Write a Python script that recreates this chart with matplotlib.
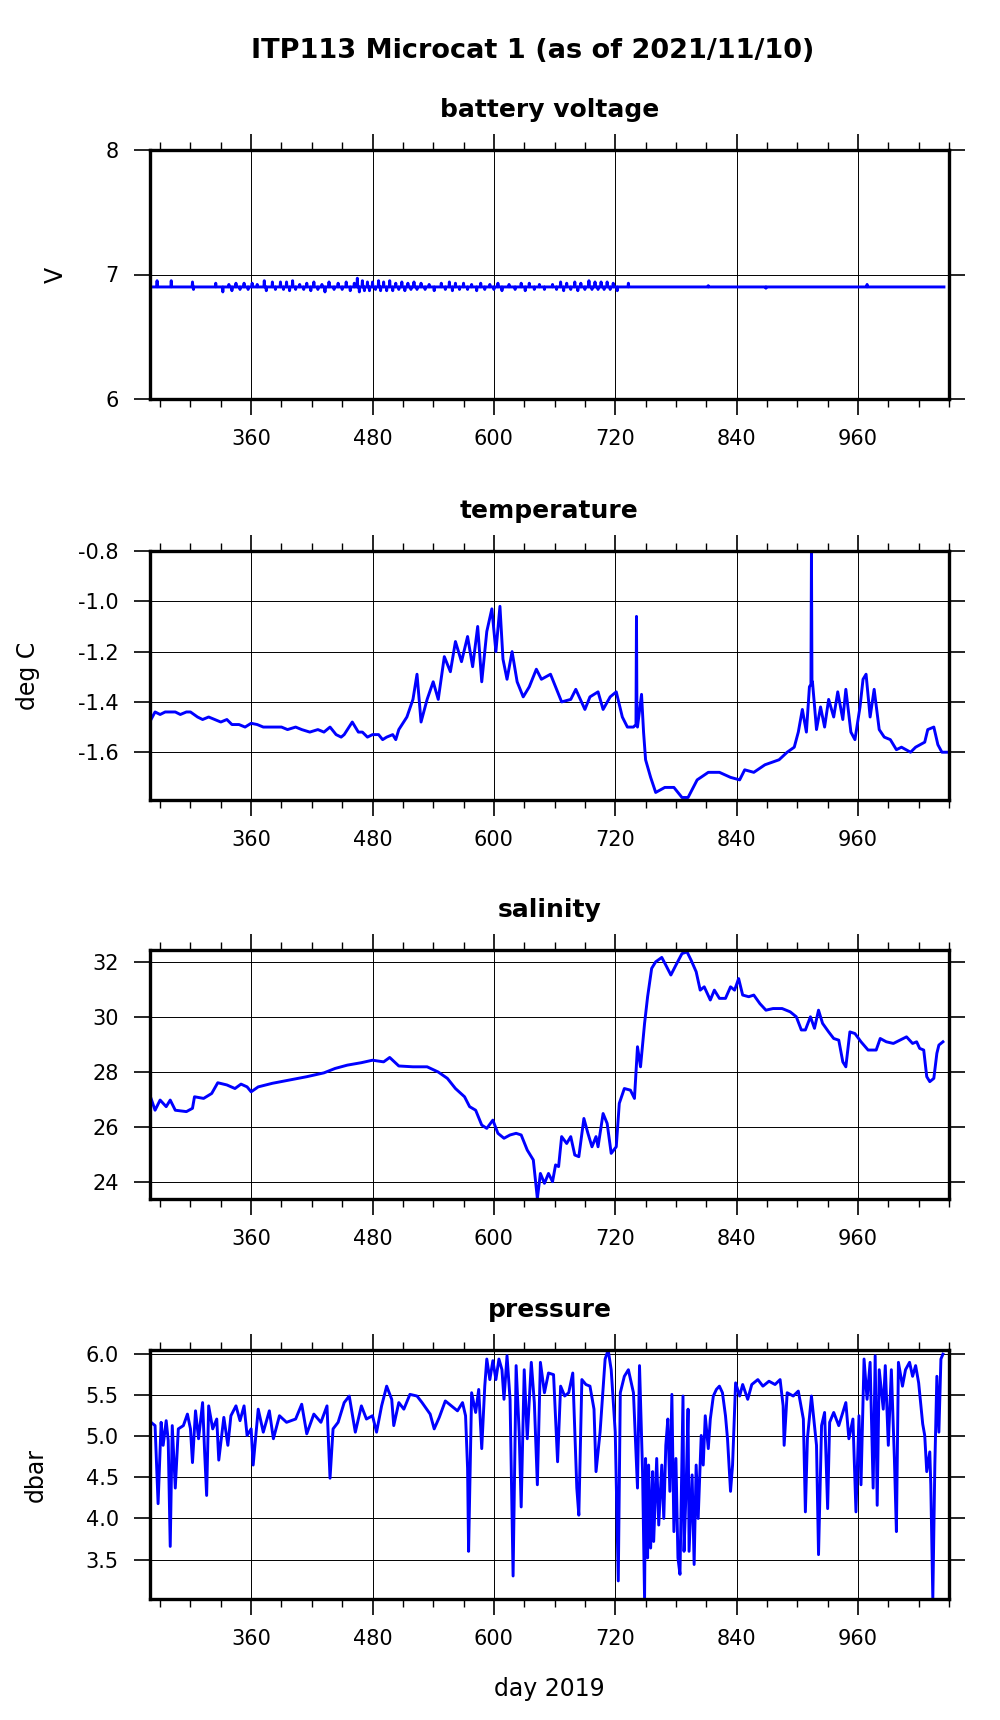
import numpy as np
import matplotlib
matplotlib.use("Agg")
import matplotlib.pyplot as plt
from matplotlib.ticker import MultipleLocator, FormatStrFormatter

plt.rcParams["font.family"] = "DejaVu Sans"

# battery voltage: flat 6.90 with short spikes (day, value)
batt_base = 6.90
batt_spike_day = [267, 281, 302, 303, 325, 332, 338, 341, 345, 349, 353, 357, 361, 366,
                  373, 375, 381, 384, 389, 392, 395, 398, 401, 404, 408, 412, 415, 419,
                  422, 426, 430, 433, 437, 442, 446, 450, 454, 458, 462, 465, 467, 470,
                  472, 475, 477, 480, 483, 486, 488, 491, 494, 497, 500, 503, 506, 509,
                  512, 515, 518, 521, 524, 528, 532, 536, 541, 548, 552, 556, 559, 562,
                  566, 570, 574, 578, 583, 587, 591, 596, 600, 604, 608, 615, 621, 627,
                  631, 635, 640, 645, 650, 658, 662, 666, 669, 672, 676, 680, 683, 686,
                  690, 694, 697, 700, 703, 706, 709, 712, 715, 718, 722, 733, 812, 869, 969]
batt_spike_v = [6.95, 6.95, 6.94, 6.88, 6.93, 6.86, 6.92, 6.87, 6.93, 6.88, 6.93, 6.88, 6.93, 6.92,
                6.95, 6.87, 6.94, 6.88, 6.94, 6.88, 6.94, 6.87, 6.95, 6.88, 6.92, 6.88, 6.93, 6.87,
                6.94, 6.88, 6.92, 6.86, 6.94, 6.88, 6.93, 6.88, 6.94, 6.87, 6.93, 6.97, 6.86, 6.95,
                6.87, 6.94, 6.87, 6.94, 6.88, 6.95, 6.87, 6.94, 6.87, 6.95, 6.87, 6.93, 6.88, 6.94,
                6.87, 6.93, 6.88, 6.94, 6.88, 6.93, 6.88, 6.92, 6.87, 6.93, 6.88, 6.94, 6.87, 6.93,
                6.88, 6.93, 6.88, 6.92, 6.87, 6.93, 6.88, 6.92, 6.88, 6.93, 6.87, 6.92, 6.88, 6.93,
                6.87, 6.93, 6.88, 6.92, 6.88, 6.92, 6.88, 6.94, 6.87, 6.93, 6.88, 6.94, 6.87, 6.93,
                6.88, 6.95, 6.88, 6.94, 6.88, 6.94, 6.88, 6.94, 6.88, 6.93, 6.87, 6.93, 6.91, 6.89, 6.92]
batt_start, batt_end = 261, 1045

temp_day = [261, 265, 270, 275, 285, 290, 296, 300, 307, 312, 318, 324, 330, 336, 341, 348,
            354, 360, 366, 372, 381, 390, 396, 404, 410, 418, 426, 432, 438, 444, 449, 452,
            460, 466, 470, 475, 480, 486, 490, 494, 500, 503, 506,
            514, 520, 524, 528, 534, 540, 545, 551, 557, 562, 568, 574, 579, 584,
            588, 593, 598, 602, 606, 609, 613, 618, 623, 629, 635, 642, 647, 656, 661, 667,
            676, 681, 690, 695, 703, 708, 715, 721, 727, 732, 738, 740.5, 741, 741.5, 742,
            746, 748, 750, 755, 760, 769, 778, 786, 792, 801, 812, 823, 834, 843, 848, 857,
            868, 882, 890, 897, 901, 905, 909, 912, 913.5, 914, 914.5, 915, 919, 923, 927,
            931, 936, 940, 945, 948, 953, 957, 962, 965, 968, 972, 976, 981, 986, 992, 998,
            1003, 1012, 1017, 1026, 1029, 1035, 1039, 1043, 1048]
temp_val = [-1.47, -1.44, -1.45, -1.44, -1.44, -1.45, -1.44, -1.44, -1.46, -1.47, -1.46, -1.47,
            -1.48, -1.47, -1.49, -1.49, -1.50, -1.485, -1.49, -1.50, -1.50, -1.50, -1.51, -1.50,
            -1.51, -1.52, -1.51, -1.52, -1.50, -1.53, -1.54, -1.53, -1.48, -1.52, -1.52, -1.54,
            -1.53, -1.53, -1.55, -1.54, -1.53, -1.55, -1.51,
            -1.46, -1.39, -1.29, -1.48, -1.39, -1.32,
            -1.39, -1.22, -1.28, -1.16, -1.24, -1.14, -1.26, -1.10, -1.32, -1.12, -1.03, -1.20,
            -1.02, -1.23, -1.31, -1.20, -1.32, -1.38, -1.34, -1.27, -1.31, -1.29, -1.34, -1.40,
            -1.39, -1.35, -1.43, -1.38, -1.36, -1.43, -1.38, -1.36, -1.46, -1.50, -1.50, -1.49,
            -1.06, -1.49, -1.50, -1.37, -1.52, -1.63, -1.70, -1.76, -1.74, -1.74, -1.78, -1.78,
            -1.71, -1.68, -1.68, -1.70, -1.71, -1.67, -1.68, -1.65, -1.63, -1.60, -1.58, -1.52,
            -1.43, -1.52, -1.34, -1.33, -0.80, -1.32, -1.32, -1.51, -1.42, -1.50, -1.39, -1.46,
            -1.36, -1.47, -1.35, -1.52, -1.55, -1.42, -1.31, -1.29, -1.46, -1.35, -1.51, -1.54,
            -1.55, -1.59, -1.58, -1.60, -1.58, -1.56, -1.51, -1.50, -1.57, -1.60, -1.60]

sal_day = [261, 265, 270, 276, 280, 285, 296, 302, 304, 313, 321, 327, 336, 344, 350, 356,
           360, 367, 381, 398, 415, 432, 443, 455, 469, 480, 491, 497, 506, 520, 534, 545,
           554, 562, 571, 576, 582, 588, 593, 599, 604, 610, 616, 622, 627, 633, 639, 643,
           646, 650, 654, 658, 661, 664, 667, 672, 676, 680, 684, 689, 693, 697, 701, 703,
           708, 712, 716, 721, 724, 729, 735, 739, 742, 745, 749, 752, 756, 760, 766, 770,
           775, 780, 786, 791, 795, 800, 804, 808, 814, 818, 823, 829, 834, 838, 842, 846,
           852, 857, 863, 869, 876, 885, 893, 899, 904, 908, 913, 917, 921, 925, 931, 936,
           941, 945, 948, 952, 957, 963, 970, 978, 982, 988, 995, 1003, 1008, 1014, 1018,
           1021, 1025, 1028, 1031, 1035, 1038, 1040, 1044]
sal_val = [27.03, 26.60, 26.97, 26.73, 26.97, 26.60, 26.55, 26.67, 27.09, 27.03, 27.21, 27.60,
           27.52, 27.39, 27.55, 27.45, 27.27, 27.45, 27.58, 27.70, 27.82, 27.96, 28.12, 28.24,
           28.33, 28.42, 28.36, 28.52, 28.21, 28.18, 28.18, 27.99, 27.76, 27.39, 27.09, 26.73,
           26.60, 26.06, 25.94, 26.24, 25.76, 25.58, 25.70, 25.76, 25.70, 25.15, 24.79, 23.39,
           24.30, 23.94, 24.30, 24.00, 24.61, 24.55, 25.64, 25.39, 25.64, 24.97, 24.91, 26.30,
           25.76, 25.27, 25.64, 25.27, 26.48, 26.12, 25.03, 25.27, 26.85, 27.39, 27.33, 27.03,
           28.91, 28.18, 29.76, 30.73, 31.76, 32.00, 32.16, 31.88, 31.52, 31.88, 32.30, 32.36,
           32.06, 31.64, 30.97, 31.09, 30.61, 30.97, 30.67, 30.67, 31.09, 30.97, 31.39, 30.79,
           30.73, 30.79, 30.48, 30.24, 30.30, 30.30, 30.18, 30.00, 29.52, 29.52, 30.00, 29.58,
           30.24, 29.76, 29.45, 29.21, 29.15, 28.36, 28.18, 29.45, 29.39, 29.09, 28.79, 28.79,
           29.21, 29.09, 29.03, 29.18, 29.27, 29.03, 29.09, 28.85, 28.79, 27.82, 27.64, 27.76,
           28.67, 28.97, 29.09]

pres_day = [261, 265, 268, 271, 273, 276, 278, 280, 282, 285, 288, 293, 297, 300, 302, 305,
            308, 312, 314, 316, 318, 322, 326, 328, 333, 337, 340, 345, 349, 353, 356, 360,
            362, 367, 372, 378, 382, 388, 395, 404, 410, 415, 422, 429, 435, 438, 441, 446,
            452, 457, 463, 469, 474, 480, 484, 489, 494, 499, 501, 506, 511, 517, 524, 529,
            537, 541, 546, 552, 558, 564, 569, 572, 574, 575, 578, 582, 585, 588, 591, 593,
            596, 599, 602, 605, 608, 610, 613, 616, 619, 622, 625, 627, 630, 633, 637, 640,
            643, 646, 650, 654, 659, 663, 666, 670, 674, 678, 682, 684, 687, 691, 695, 699,
            701, 705, 710, 713, 716, 720, 723, 725, 729, 733, 738, 742, 744, 747, 749, 750,
            752, 753, 755, 757, 758, 761, 763, 766, 768, 770, 772, 774, 776, 778, 780, 782,
            784, 787, 788, 790, 792, 793, 796, 798, 800, 802, 805, 807, 809, 812, 814, 817,
            820, 823, 826, 829, 831, 834, 836, 839, 843, 846, 851, 855, 861, 866, 872, 878,
            883, 886, 887, 890, 896, 901, 906, 908, 910, 914, 917, 919, 921, 924, 927, 930,
            932, 936, 941, 944, 948, 951, 955, 958, 961, 963, 966, 969, 972, 975, 977, 979,
            981, 985, 987, 990, 993, 996, 998, 1000, 1004, 1007, 1011, 1014, 1017, 1020,
            1024, 1026, 1028, 1031, 1032, 1034, 1036, 1038, 1040, 1042, 1044]
pres_val = [5.17, 5.13, 4.18, 5.17, 4.89, 5.19, 4.95, 3.66, 5.13, 4.37, 5.09, 5.13, 5.27, 5.09,
            4.68, 5.31, 4.97, 5.41, 4.81, 4.28, 5.37, 5.09, 5.21, 4.71, 5.23, 4.89, 5.25, 5.37,
            5.19, 5.37, 5.01, 5.09, 4.65, 5.33, 5.05, 5.31, 4.97, 5.25, 5.17, 5.21, 5.39, 5.03,
            5.27, 5.17, 5.37, 4.49, 5.09, 5.17, 5.41, 5.49, 5.05, 5.37, 5.21, 5.25, 5.05, 5.37,
            5.61, 5.45, 5.13, 5.41, 5.33, 5.51, 5.49, 5.41, 5.27, 5.09, 5.23, 5.43, 5.37, 5.31,
            5.41, 5.25, 4.61, 3.60, 5.53, 5.29, 5.57, 4.85, 5.61, 5.94, 5.69, 5.92, 5.69, 5.94,
            5.81, 5.45, 5.98, 5.45, 3.30, 5.86, 5.05, 4.14, 5.81, 4.97, 5.90, 5.41, 4.41, 5.90,
            5.53, 5.77, 5.75, 4.69, 5.61, 5.49, 5.53, 5.77, 4.37, 4.04, 5.69, 5.63, 5.61, 5.33,
            4.57, 5.05, 5.94, 6.05, 5.81, 5.05, 3.24, 5.53, 5.73, 5.81, 5.53, 4.37, 5.86, 4.57,
            3.02, 4.73, 3.52, 4.65, 3.64, 4.57, 3.72, 4.73, 3.92, 4.65, 4.00, 4.89, 5.21, 4.33,
            5.51, 3.84, 4.73, 3.52, 3.32, 5.49, 3.60, 4.33, 5.33, 3.60, 4.53, 3.44, 4.65, 4.00,
            5.01, 4.65, 5.25, 4.85, 5.21, 5.49, 5.57, 5.61, 5.53, 5.25, 4.97, 4.33, 4.65, 5.65,
            5.49, 5.63, 5.45, 5.63, 5.69, 5.61, 5.67, 5.63, 5.69, 5.37, 4.89, 5.53, 5.49, 5.55,
            5.21, 4.08, 4.97, 5.49, 5.13, 4.89, 3.56, 5.13, 5.29, 4.12, 5.17, 5.29, 5.13, 5.25,
            5.41, 4.97, 5.21, 4.08, 5.25, 4.41, 5.94, 5.45, 5.90, 4.37, 5.98, 4.16, 5.81, 5.33,
            5.86, 4.89, 5.81, 4.73, 3.84, 5.90, 5.61, 5.81, 5.90, 5.73, 5.86, 5.65, 5.15, 5.01,
            4.57, 4.81, 4.41, 3.02, 4.65, 5.73, 5.05, 5.94, 6.00]

# build the battery trace: baseline with each spike as a narrow excursion
bx, by = [batt_start], [batt_base]
for d, v in zip(batt_spike_day, batt_spike_v):
    bx += [d - 0.4, d, d + 0.4]
    by += [batt_base, v, batt_base]
bx.append(batt_end)
by.append(batt_base)

panels = [
    ("battery voltage", "V", bx, by, (6, 8), 1.0, "%d"),
    ("temperature", "deg C", temp_day, temp_val, (-1.79, -0.8), 0.2, "%.1f"),
    ("salinity", "", sal_day, sal_val, (23.37, 32.43), 2.0, "%d"),
    ("pressure", "dbar", pres_day, pres_val, (3.02, 6.05), 0.5, "%.1f"),
]
tops = [150, 551, 950, 1350]

fig = plt.figure(figsize=(10, 17.2), dpi=100)
fig.text(0.533, 1 - 51 / 1720, "ITP113 Microcat 1 (as of 2021/11/10)",
         ha="center", va="center", fontsize=19.5, fontweight="bold")

for (title, ylab, x, y, ylim, ystep, yfmt), top in zip(panels, tops):
    ax = fig.add_axes([0.150, 1 - (top + 249) / 1720, 0.799, 249 / 1720])
    ax.plot(x, y, color="#0000ff", lw=2.1)
    ax.set_xlim(260, 1050)
    ax.set_ylim(*ylim)
    ax.xaxis.set_major_locator(MultipleLocator(120))
    ax.xaxis.set_minor_locator(MultipleLocator(30))
    ax.yaxis.set_major_locator(MultipleLocator(ystep))
    ax.yaxis.set_major_formatter(FormatStrFormatter(yfmt))
    ax.grid(True, which="major", color="black", lw=0.7)
    for s in ax.spines.values():
        s.set_linewidth(2.4)
    ax.tick_params(axis="x", which="both", top=True, bottom=True, direction="out")
    ax.tick_params(axis="x", which="major", length=11.5, width=1.2, labelsize=15, pad=10)
    ax.tick_params(axis="x", which="minor", length=5.8, width=1.0)
    ax.tick_params(axis="y", which="major", left=True, right=True, direction="out",
                   length=11.5, width=1.2, labelsize=15, pad=11)
    if ylab:
        ax.set_ylabel(ylab, fontsize=17, labelpad=27)
    fig.text(0.5495, 1 - (top - 40) / 1720, title, ha="center", va="center",
             fontsize=18, fontweight="bold")

ax.set_xlabel("day 2019", fontsize=17, labelpad=20)

fig.savefig("out.png", dpi=100)
